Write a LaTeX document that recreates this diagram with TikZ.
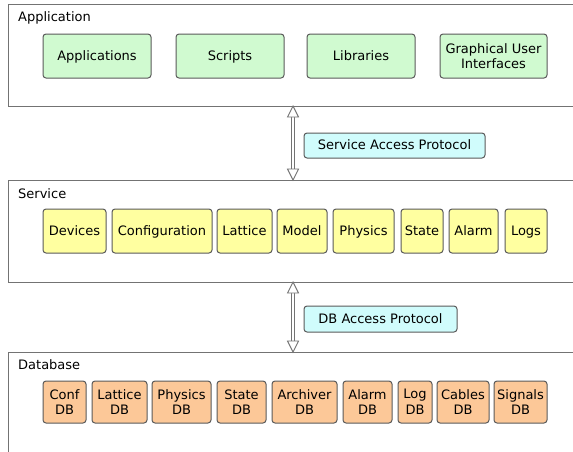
\documentclass[tikz,border=0pt]{standalone}
\usepackage{fontspec}
\setmainfont{DejaVu Sans}
\usetikzlibrary{calc}
\definecolor{boxgreen}{RGB}{208,250,208}
\definecolor{boxyellow}{RGB}{255,255,160}
\definecolor{boxorange}{RGB}{252,200,152}
\definecolor{boxcyan}{RGB}{208,252,252}
\definecolor{outergray}{RGB}{115,115,115}
\definecolor{innergray}{RGB}{90,90,90}
\begin{document}
\begin{tikzpicture}[x=1pt,y=-1pt,
  layer/.style={draw=outergray,line width=1.3pt,inner sep=0pt,anchor=north west,minimum width=600pt},
  layerlabel/.style={anchor=west,inner sep=0pt,font=\fontsize{13}{15}\selectfont},
  item/.style={draw=innergray,line width=1pt,rounded corners=3pt,inner sep=0pt,align=center,font=\fontsize{13}{15.5}\selectfont},
  oneline/.style={text height=10.5pt,text depth=2.5pt},
  appitem/.style={item,fill=boxgreen,minimum height=44pt,minimum width=108pt},
  svcitem/.style={item,oneline,fill=boxyellow,minimum height=44pt},
  dbitem/.style={item,fill=boxorange,minimum height=42pt},
  proto/.style={item,oneline,fill=boxcyan,minimum height=25pt},
  arrline/.style={draw=outergray,line width=0.9pt},
  arrhead/.style={draw=outergray,line width=0.9pt,fill=white,line join=miter}
]
\useasboundingbox (0,0) rectangle (573,451);
\clip (0,0) rectangle (573,451);
\fill[white] (0,0) rectangle (573,451);

% layers
\node[layer,minimum height=102pt] (app) at (8,4) {};
\node[layer,minimum height=102pt] (svc) at (8,180) {};
\node[layer,minimum height=130pt] (db) at (8,352) {};
\node[layerlabel] (applbl) at (18,17.5) {Application};
\node[layerlabel] (svclbl) at (18,193.5) {Service};
\node[layerlabel] (dblbl) at (18,364.5) {Database};

% application items
\node[appitem,oneline] (apps) at (97,56) {Applications};
\node[appitem,oneline] (scripts) at (230,56) {Scripts};
\node[appitem,oneline] (libs) at (361,56) {Libraries};
\node[appitem,minimum width=107pt] (gui) at (493.5,56) {Graphical User\\Interfaces};

% service items
\node[svcitem,minimum width=63pt] (devices) at (74.5,231) {Devices};
\node[svcitem,minimum width=100pt] (config) at (162,231) {Configuration};
\node[svcitem,minimum width=55pt] (lattice) at (244.5,231) {Lattice};
\node[svcitem,minimum width=50pt] (model) at (302,231) {Model};
\node[svcitem,minimum width=61pt] (physics) at (363.5,231) {Physics};
\node[svcitem,minimum width=42pt] (state) at (422,231) {State};
\node[svcitem,minimum width=49pt] (alarm) at (473.5,231) {Alarm};
\node[svcitem,minimum width=42pt] (logs) at (526,231) {Logs};

% database items
\node[dbitem,minimum width=43pt] (confdb) at (64.5,402) {Conf\\DB};
\node[dbitem,minimum width=55pt] (latdb) at (119.5,402) {Lattice\\DB};
\node[dbitem,minimum width=59pt] (physdb) at (181.5,402) {Physics\\DB};
\node[dbitem,minimum width=49pt] (statedb) at (241.5,402) {State\\DB};
\node[dbitem,minimum width=65pt] (archdb) at (304.5,402) {Archiver\\DB};
\node[dbitem,minimum width=49pt] (alarmdb) at (367.5,402) {Alarm\\DB};
\node[dbitem,minimum width=34pt] (logdb) at (415,402) {Log\\DB};
\node[dbitem,minimum width=52pt] (cabdb) at (463,402) {Cables\\DB};
\node[dbitem,minimum width=53pt] (sigdb) at (520.5,402) {Signals\\DB};

% protocols
\node[proto,minimum width=181pt] (sap) at (394.5,145.5) {Service Access Protocol};
\node[proto,minimum width=153pt,minimum height=26pt] (dbap) at (380.5,319) {DB Access Protocol};

% double arrows
\coordinate (a1) at (293,106);
\coordinate (a2) at (293,180);
\coordinate (b1) at (293,282);
\coordinate (b2) at (293,352);
\foreach \s/\e in {a1/a2,b1/b2}{
  \draw[arrline] ($(\s)+(-1.8,11)$) -- ($(\e)+(-1.8,-11)$);
  \draw[arrline] ($(\s)+(1.8,11)$) -- ($(\e)+(1.8,-11)$);
  \draw[arrhead] (\s) -- ++(-5.5,11) -- ++(11,0) -- cycle;
  \draw[arrhead] (\e) -- ++(-5.5,-11) -- ++(11,0) -- cycle;
}
\end{tikzpicture}
\end{document}
